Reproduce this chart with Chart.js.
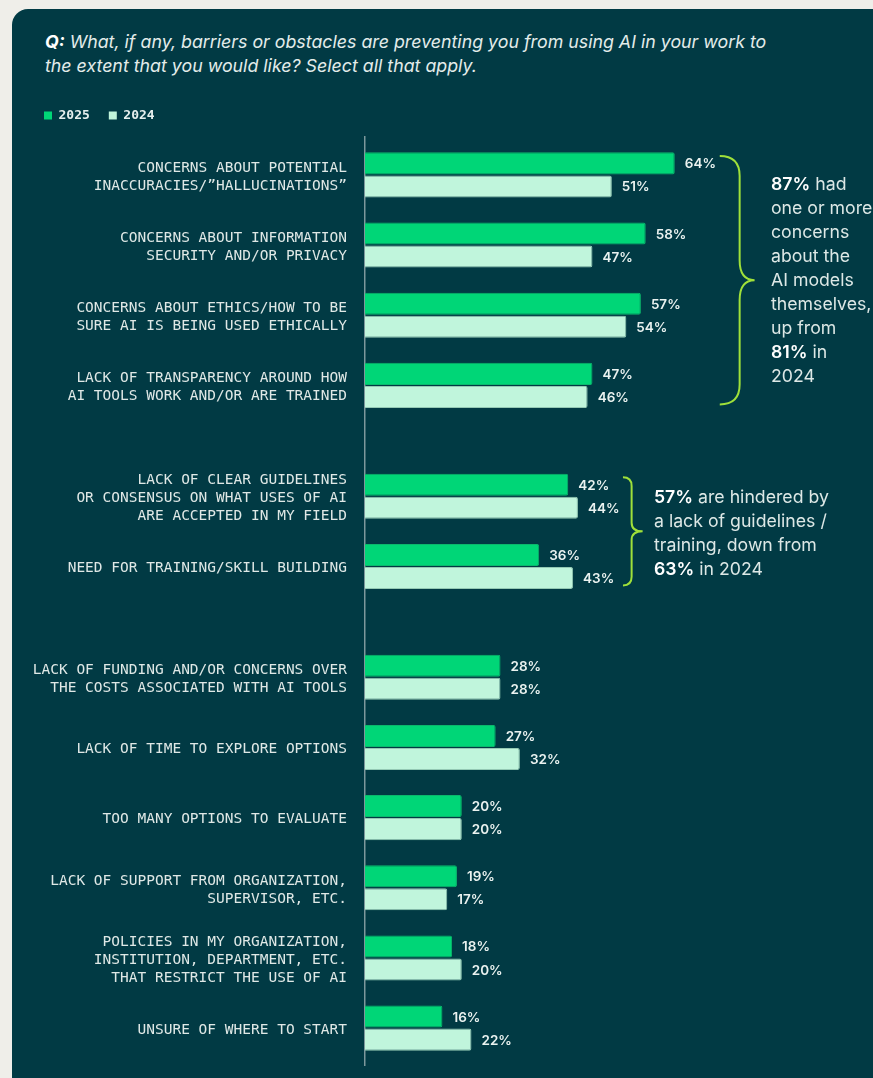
<!DOCTYPE html>
<html>
<head>
<meta charset="utf-8">
<script src="https://cdn.jsdelivr.net/npm/chart.js"></script>
<style>
  body { margin: 0; width: 873px; height: 1078px; overflow: hidden; position: relative; background: #efeee9; font-family: Inter, "Noto Sans", sans-serif; }
  .card { position: absolute; left: 12px; top: 9px; width: 900px; height: 1100px; background: #013a44; border-radius: 16px; }
  .title { position: absolute; left: 45px; top: 30px; font-size: 17.8px; line-height: 24px; color: #e3ecea; font-style: italic; white-space: nowrap; }
  .title b { font-weight: 700; color: #fff; }
  .note { position: absolute; font-size: 17.7px; line-height: 24px; color: #dde8e6; white-space: nowrap; }
  .note b { font-weight: 600; color: #fff; }
  #wrap { position: absolute; left: 0; top: 90px; width: 873px; height: 976px; }
</style>
</head>
<body>
<div class="card"></div>
<div class="title"><b>Q:</b> What, if any, barriers or obstacles are preventing you from using AI in your work to<br>the extent that you would like? Select all that apply.</div>
<div id="wrap"><canvas id="grafico"></canvas></div>
<div class="note" style="left:771px; top:172px"><b>87%</b> had<br>one or more<br>concerns<br>about the<br>AI models<br>themselves,<br>up from<br><b>81%</b> in<br>2024</div>
<div class="note" style="left:654px; top:485px"><b>57%</b> are hindered by<br>a lack of guidelines /<br>training, down from<br><b>63%</b> in 2024</div>
<script>
const categories = [
    ["CONCERNS ABOUT POTENTIAL", "INACCURACIES/”HALLUCINATIONS”"],
    ["CONCERNS ABOUT INFORMATION", "SECURITY AND/OR PRIVACY"],
    ["CONCERNS ABOUT ETHICS/HOW TO BE", "SURE AI IS BEING USED ETHICALLY"],
    ["LACK OF TRANSPARENCY AROUND HOW", "AI TOOLS WORK AND/OR ARE TRAINED"],
    ["LACK OF CLEAR GUIDELINES", "OR CONSENSUS ON WHAT USES OF AI", "ARE ACCEPTED IN MY FIELD"],
    ["NEED FOR TRAINING/SKILL BUILDING"],
    ["LACK OF FUNDING AND/OR CONCERNS OVER", "THE COSTS ASSOCIATED WITH AI TOOLS"],
    ["LACK OF TIME TO EXPLORE OPTIONS"],
    ["TOO MANY OPTIONS TO EVALUATE"],
    ["LACK OF SUPPORT FROM ORGANIZATION,", "SUPERVISOR, ETC."],
    ["POLICIES IN MY ORGANIZATION,", "INSTITUTION, DEPARTMENT, ETC.", "THAT RESTRICT THE USE OF AI"],
    ["UNSURE OF WHERE TO START"]
];
const values2025 = [64, 58, 57, 47, 42, 36, 28, 27, 20, 19, 18, 16];
const values2024 = [51, 47, 54, 46, 44, 43, 28, 32, 20, 17, 20, 22];
const groupSizes = [4, 2, 6];
const bracedGroups = [0, 1];

// rows sit one unit apart, with a wider gap between the groups
const groupGap = 0.58;
const positions = [];
let p = 0;
groupSizes.forEach(n => {
    for (let i = 0; i < n; i++) { positions.push(p); p += 1; }
    p += groupGap;
});

function drawBrace(ctx, x0, top, bottom) {
    const mid = (top + bottom) / 2;
    const r = Math.min(20, (bottom - top) * 0.08);
    const w = 8 + r * 0.35;
    const sx = x0 + r;
    ctx.beginPath();
    ctx.moveTo(x0, top);
    ctx.quadraticCurveTo(sx, top, sx, top + r);
    ctx.lineTo(sx, mid - r);
    ctx.quadraticCurveTo(sx, mid, sx + w, mid);
    ctx.quadraticCurveTo(sx, mid, sx, mid + r);
    ctx.lineTo(sx, bottom - r);
    ctx.quadraticCurveTo(sx, bottom, x0, bottom);
    ctx.stroke();
}

const braces = {
    id: 'braces',
    afterDatasetsDraw(chart) {
        const { ctx, scales: { x, y } } = chart;
        ctx.save();
        ctx.strokeStyle = '#9fe03a';
        ctx.lineWidth = 2;
        let start = 0;
        groupSizes.forEach((n, g) => {
            if (bracedGroups.includes(g)) {
                const maxVal = Math.max(...values2025.slice(start, start + n), ...values2024.slice(start, start + n));
                const x0 = x.getPixelForValue(maxVal) + 45;
                const top = y.getPixelForValue(positions[start]) - 19;
                const bottom = y.getPixelForValue(positions[start + n - 1]) + 19;
                drawBrace(ctx, x0, top, bottom);
            }
            start += n;
        });
        ctx.restore();
    }
};

const valueLabels = {
    id: 'valueLabels',
    afterDatasetsDraw(chart) {
        const ctx = chart.ctx;
        ctx.save();
        ctx.font = '600 13.5px Inter';
        ctx.fillStyle = '#eaf2f0';
        ctx.textBaseline = 'middle';
        chart.data.datasets.forEach((ds, i) => {
            chart.getDatasetMeta(i).data.forEach((bar, j) => {
                ctx.fillText(ds.data[j].x + '%', bar.x + 10, bar.y + 1);
            });
        });
        ctx.restore();
    }
};

const legendGap = {
    id: 'legendGap',
    beforeInit(chart) {
        const fit = chart.legend.fit;
        chart.legend.fit = function () {
            fit.call(this);
            this.height += 5;
        };
    }
};

const ctx = document.getElementById('grafico').getContext('2d');
const grafico = new Chart(ctx, {
    type: 'bar',
    data: {
        datasets: [{
            label: '2025',
            data: values2025.map((v, i) => ({ x: v, y: positions[i] })),
            backgroundColor: '#00d677',
            borderColor: '#0bb86c',
            borderWidth: 1,
            borderRadius: 2
        }, {
            label: '2024',
            data: values2024.map((v, i) => ({ x: v, y: positions[i] })),
            backgroundColor: '#c0f5dc',
            borderColor: '#94c9b4',
            borderWidth: 1,
            borderRadius: 2
        }]
    },
    options: {
        indexAxis: 'y',
        responsive: true,
        maintainAspectRatio: false,
        animation: false,
        categoryPercentage: 0.656,
        barPercentage: 0.957,
        layout: { padding: { left: 25, right: 24, top: 0, bottom: 0 } },
        scales: {
            x: { type: 'linear', min: 0, max: 100, display: false },
            y: {
                type: 'linear',
                reverse: true,
                offset: false,
                bounds: 'data',
                min: -0.54,
                max: 12.70,
                afterBuildTicks: s => { s.ticks = positions.map(v => ({ value: v })); },
                afterFit: s => { s.width = 340; s.paddingTop = 0; s.paddingBottom = 0; },
                grid: { display: false },
                border: { display: true, color: '#7d989c', width: 1.5 },
                ticks: {
                    autoSkip: false,
                    padding: 10,
                    labelOffset: 2,
                    color: '#dfe8e6',
                    font: { family: 'DejaVu Sans Mono', size: 14.5, lineHeight: '18px' },
                    callback: v => categories[positions.indexOf(v)]
                }
            }
        },
        plugins: {
            tooltip: { enabled: false },
            legend: {
                position: 'top',
                align: 'start',
                labels: {
                    boxWidth: 8,
                    boxHeight: 8,
                    padding: 19,
                    color: '#e6efee',
                    font: { family: 'DejaVu Sans Mono', size: 13, weight: 'bold' },
                    generateLabels: chart => Chart.defaults.plugins.legend.labels.generateLabels(chart)
                        .map(l => Object.assign(l, { lineWidth: 0, strokeStyle: 'transparent' }))
                }
            }
        }
    },
    plugins: [legendGap, braces, valueLabels]
});
</script>
</body>
</html>
